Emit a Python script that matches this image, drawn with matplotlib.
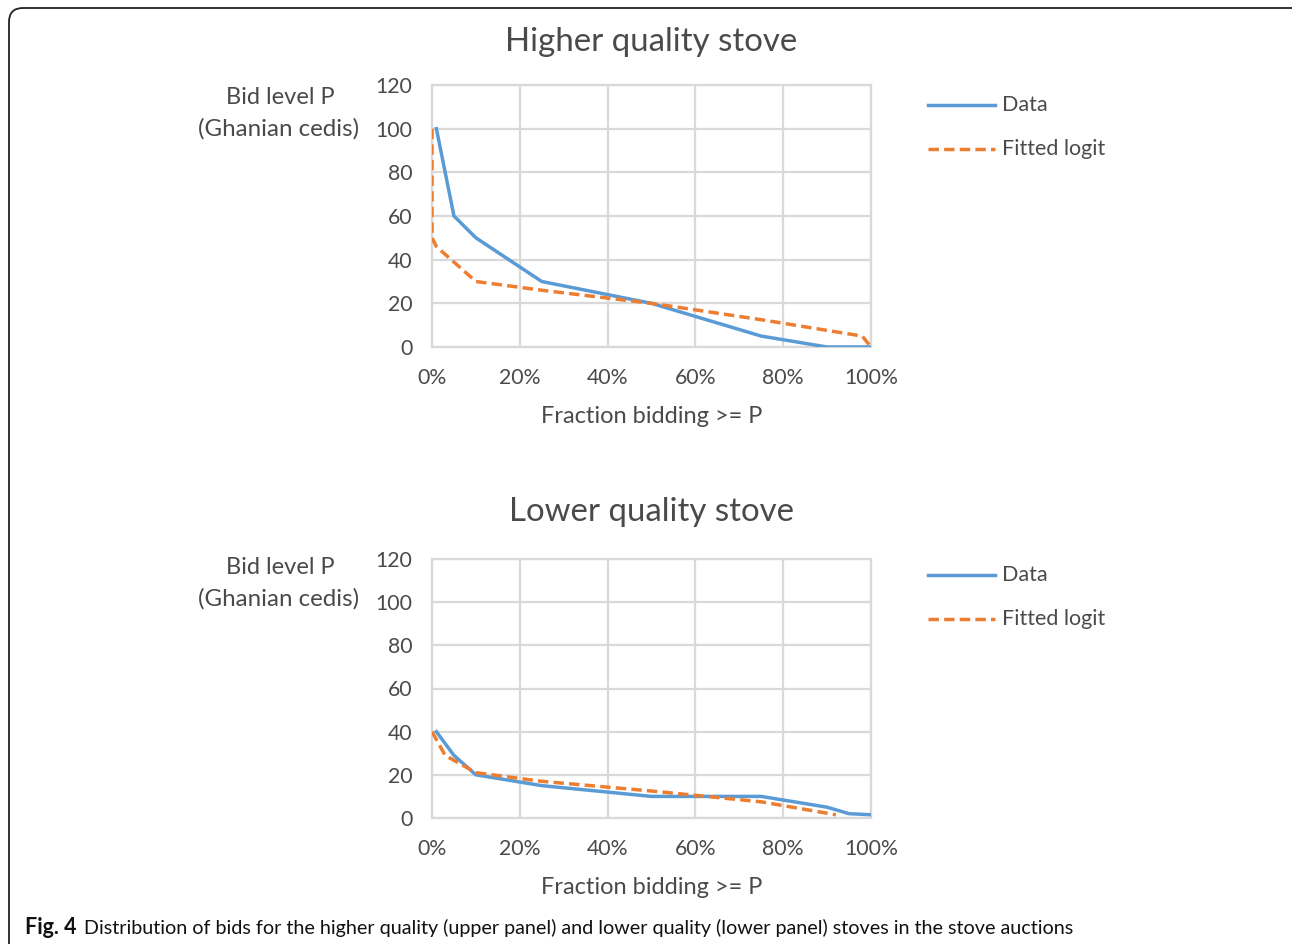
import matplotlib
matplotlib.use("Agg")
import matplotlib.pyplot as plt
from matplotlib.patches import FancyBboxPatch
from matplotlib.lines import Line2D
from matplotlib.ticker import FuncFormatter

# Higher quality stove: fraction bidding >= P (%) vs bid level P
high_data_x = [1, 5, 10, 25, 50, 75, 90, 100]
high_data_y = [100, 60, 50, 30, 20, 5, 0, 0]
high_fit_x = [0, 0, 1, 10, 25, 50, 75, 98, 100]
high_fit_y = [100, 50, 46, 30, 26, 20, 12.5, 5, 0]

# Lower quality stove
low_data_x = [1, 5, 10, 25, 50, 75, 90, 95, 100]
low_data_y = [40, 29, 20, 15, 10, 10, 5, 2, 1.5]
low_fit_x = [0, 3, 10, 25, 50, 60, 75, 92]
low_fit_y = [40, 29, 21, 17, 12.5, 10.5, 7.5, 1.5]

titles = ["Higher quality stove", "Lower quality stove"]
y_ticks = [0, 20, 40, 60, 80, 100, 120]
x_ticks = [0, 20, 40, 60, 80, 100]

BLUE = "#5b9bd5"
ORANGE = "#ed7d31"
GRID = "#d9d9d9"
TXT = "#4a4a4a"

plt.rcParams['font.family'] = ['Lato', 'DejaVu Sans']

W, H = 1292, 944
fig = plt.figure(figsize=(W / 100, H / 100), dpi=100)

def px(x0, y0, x1, y1):
    # pixel box -> figure fraction rect
    return [x0 / W, 1 - y1 / H, (x1 - x0) / W, (y1 - y0) / H]

panels = [
    (px(432, 85, 871, 347), high_data_x, high_data_y, high_fit_x, high_fit_y, 42),
    (px(432, 559, 871, 818), low_data_x, low_data_y, low_fit_x, low_fit_y, 512),
]

for i, (rect, dx, dy, fx, fy, title_y) in enumerate(panels):
    ax = fig.add_axes(rect)
    ax.plot(dx, dy, color=BLUE, lw=2.5, zorder=3)
    ax.plot(fx, fy, color=ORANGE, lw=2.5, ls=(0, (3, 1.5)), zorder=3)
    ax.set_xlim(0, 100)
    ax.set_ylim(0, 120)
    ax.set_xticks(x_ticks)
    ax.set_yticks(y_ticks)
    ax.xaxis.set_major_formatter(FuncFormatter(lambda v, p: f"{int(v)}%"))
    ax.grid(True, color=GRID, lw=1.6)
    ax.set_axisbelow(True)
    for s in ax.spines.values():
        s.set_color(GRID)
        s.set_linewidth(1.6)
    ax.tick_params(length=0, labelsize=15.3, labelcolor=TXT, pad=15)
    ax.tick_params(axis='y', pad=14)
    ax.set_xlabel("Fraction bidding >= P", fontsize=17, color=TXT, labelpad=13)

    off = title_y - 42
    fig.text(651 / W, 1 - title_y / H, titles[i], fontsize=23.8, color=TXT,
             ha='center', va='center')
    fig.text(280 / W, 1 - (98 + off) / H, "Bid level P", fontsize=17,
             color=TXT, ha='center', va='center')
    fig.text(279 / W, 1 - (129 + off) / H, "(Ghanian cedis)", fontsize=17.4,
             color=TXT, ha='center', va='center')

    # legend drawn by hand to match Excel layout
    fig.add_artist(Line2D([928 / W, 995 / W], [1 - (105 + off) / H] * 2,
                          color=BLUE, lw=2.5))
    fig.add_artist(Line2D([928 / W, 995 / W], [1 - (149 + off) / H] * 2,
                          color=ORANGE, lw=2.5, ls=(0, (3, 1.5))))
    fig.text(1002 / W, 1 - (105 + off) / H, "Data", fontsize=15.5, color=TXT,
             va='center')
    fig.text(1002 / W, 1 - (149 + off) / H, "Fitted logit", fontsize=15.5,
             color=TXT, va='center')

# frame around the figure
frame = FancyBboxPatch((9, -20), W + 10, H - 8 + 20,
                       boxstyle="round,pad=0,rounding_size=14",
                       transform=None, fill=False, ec="#222222", lw=1.3)
fig.add_artist(frame)

# caption
fig.text(25 / W, 1 - 928 / H, "Fig. 4", fontsize=15.5, fontweight='bold',
         color="#111111", va='center')
fig.text(84 / W, 1 - 928 / H,
         "Distribution of bids for the higher quality (upper panel) and lower "
         "quality (lower panel) stoves in the stove auctions",
         fontsize=14.2, color="#111111", va='center')

fig.savefig("out.png", dpi=100)
